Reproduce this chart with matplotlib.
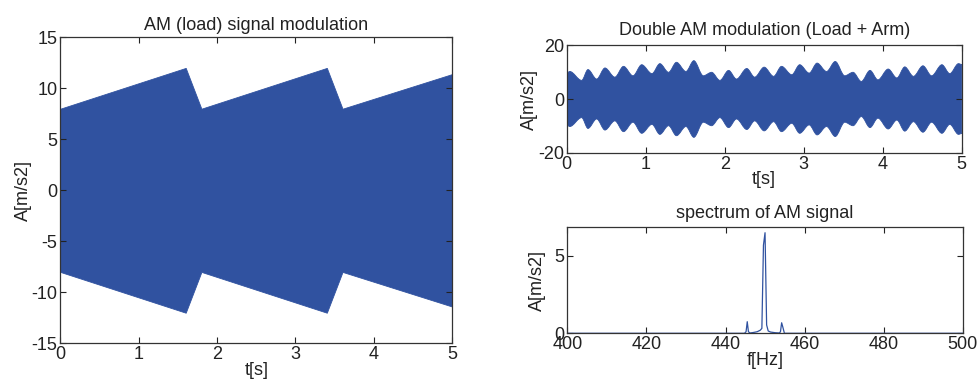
import numpy as np
import matplotlib
matplotlib.use("Agg")
import matplotlib.pyplot as plt
from matplotlib.path import Path
from matplotlib.patches import PathPatch

plt.rcParams['font.family'] = ['Liberation Sans', 'DejaVu Sans']
plt.rcParams['font.size'] = 13
plt.rcParams['axes.unicode_minus'] = False

# ---- data ----
# Left: AM (load) envelope breakpoints
load_t = [0.0, 1.6, 1.8, 3.4, 3.6, 5.0]
load_env = [8.0, 12.0, 8.0, 12.0, 8.0, 11.4]

# Right top: double AM envelope extremes (alternating peaks / troughs)
arm_t = [0.0, 0.04, 0.19, 0.27, 0.38, 0.485, 0.61, 0.72, 0.84, 0.95, 1.08, 1.18,
         1.29, 1.39, 1.51, 1.61, 1.73, 1.835, 1.94, 2.05, 2.15, 2.28, 2.38, 2.50,
         2.62, 2.72, 2.85, 2.95, 3.07, 3.17, 3.29, 3.40, 3.52, 3.625, 3.73, 3.84,
         3.94, 4.07, 4.18, 4.28, 4.39, 4.51, 4.62, 4.75, 4.85, 4.96, 5.0]
arm_env = [9.6, 10.2, 6.9, 10.9, 7.4, 11.5, 8.1, 12.1, 8.6, 12.7, 9.4, 13.1,
           9.9, 13.6, 10.2, 14.2, 8.6, 9.9, 6.9, 10.6, 7.4, 11.3, 8.1, 11.8,
           8.4, 12.1, 9.0, 12.7, 9.6, 13.3, 10.2, 13.9, 8.6, 9.9, 6.5, 10.6,
           7.1, 11.1, 7.8, 11.9, 8.4, 12.3, 8.6, 12.7, 9.4, 13.1, 12.8]

# Right bottom: spectrum
spec_f = [400.0, 444.8, 445.2, 445.5, 445.8, 446.2, 447.0, 448.0, 448.8, 449.2,
          449.6, 450.0, 450.4, 450.8, 451.4, 452.5, 453.6, 453.9, 454.2, 454.5,
          454.9, 500.0]
spec_a = [0.0, 0.0, 0.1, 0.75, 0.1, 0.02, 0.05, 0.1, 0.2, 0.32,
          5.7, 6.5, 0.54, 0.15, 0.08, 0.04, 0.02, 0.1, 0.68, 0.4,
          0.0, 0.0]

blue = '#3052A0'
edge = '#333333'
txt = '#222222'


def style(ax):
    ax.tick_params(direction='in', top=True, right=True, length=4,
                   width=0.8, colors=txt, labelsize=13, pad=2)
    for s in ax.spines.values():
        s.set_linewidth(0.9)
        s.set_color(edge)


def smooth_band(ax, t, v, color):
    """Filled band between +env and -env drawn with cubic Bezier segments."""
    t = np.asarray(t, float)
    v = np.asarray(v, float)
    verts = [(t[0], v[0])]
    codes = [Path.MOVETO]
    for i in range(len(t) - 1):
        dt = t[i + 1] - t[i]
        verts += [(t[i] + dt / 3, v[i]), (t[i + 1] - dt / 3, v[i + 1]), (t[i + 1], v[i + 1])]
        codes += [Path.CURVE4] * 3
    verts.append((t[-1], -v[-1]))
    codes.append(Path.LINETO)
    for i in range(len(t) - 1, 0, -1):
        dt = t[i] - t[i - 1]
        verts += [(t[i] - dt / 3, -v[i]), (t[i - 1] + dt / 3, -v[i - 1]), (t[i - 1], -v[i - 1])]
        codes += [Path.CURVE4] * 3
    verts.append((t[0], v[0]))
    codes.append(Path.CLOSEPOLY)
    patch = PathPatch(Path(verts, codes), facecolor=color, edgecolor=color, lw=0.6)
    ax.add_patch(patch)


fig = plt.figure(figsize=(9.77, 3.85), dpi=100)

# Left panel
ax1 = fig.add_axes([0.0617, 0.1083, 0.4012, 0.7948])
ax1.fill_between(load_t, load_env, [-e for e in load_env], color=blue, lw=0.6)
ax1.set_xlim(0, 5)
ax1.set_ylim(-15, 15)
ax1.set_xticks([0, 1, 2, 3, 4, 5])
ax1.set_yticks([-15, -10, -5, 0, 5, 10, 15])
ax1.set_xlabel('t[s]', labelpad=-1, color=txt)
ax1.set_ylabel('A[m/s2]', labelpad=0, color=txt)
ax1.set_title('AM (load) signal modulation', fontsize=13, pad=5, color=txt)
style(ax1)

# Right top
ax2 = fig.add_axes([0.580, 0.6026, 0.4043, 0.2805])
smooth_band(ax2, arm_t, arm_env, blue)
ax2.set_xlim(0, 5)
ax2.set_ylim(-20, 20)
ax2.set_xticks([0, 1, 2, 3, 4, 5])
ax2.set_yticks([-20, 0, 20])
ax2.set_xlabel('t[s]', labelpad=-1, color=txt)
ax2.set_ylabel('A[m/s2]', labelpad=0, color=txt)
ax2.set_title('Double AM modulation (Load + Arm)', fontsize=13, pad=7, color=txt)
style(ax2)

# Right bottom
ax3 = fig.add_axes([0.5807, 0.1343, 0.4047, 0.2753])
ax3.plot(spec_f, spec_a, color=blue, lw=0.9)
ax3.set_xlim(400, 500)
ax3.set_ylim(0, 6.85)
ax3.set_xticks([400, 420, 440, 460, 480, 500])
ax3.set_yticks([0, 5])
ax3.set_xlabel('f[Hz]', labelpad=-1, color=txt)
ax3.set_ylabel('A[m/s2]', labelpad=6, color=txt)
ax3.set_title('spectrum of AM signal', fontsize=13, pad=7, color=txt)
style(ax3)

fig.savefig('out.png', dpi=100)
